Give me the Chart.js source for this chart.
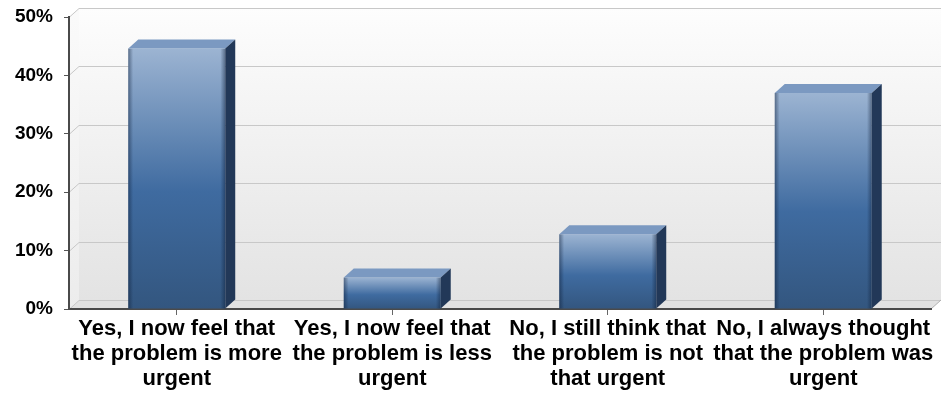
<!DOCTYPE html>
<html>
<head>
<meta charset="utf-8">
<script src="https://cdn.jsdelivr.net/npm/chart.js@4.4.1/dist/chart.umd.min.js"></script>
<style>
  html, body { margin: 0; padding: 0; background: #fff; }
  #wrap { width: 943px; height: 398px; }
</style>
</head>
<body>
<div id="wrap"><canvas id="chart"></canvas></div>
<script>
// Answers and their share of responses
const categories = [
  ["Yes, I now feel that", "the problem is more", "urgent"],
  ["Yes, I now feel that", "the problem is less", "urgent"],
  ["No, I still think that", "the problem is not", "that urgent"],
  ["No, I always thought", "that the problem was", "urgent"]
];
const percentages = [44.6, 5.4, 12.8, 37.0];
const tickValues = [0, 10, 20, 30, 40, 50];

// 3D depth of walls and bars
const DX = 10;
const DY = 9;

function poly(ctx, pts) {
  ctx.beginPath();
  ctx.moveTo(pts[0][0], pts[0][1]);
  for (let i = 1; i < pts.length; i++) ctx.lineTo(pts[i][0], pts[i][1]);
  ctx.closePath();
}

/* =========================
   BACK WALL, SIDE WALL, FLOOR
========================= */
const wallsPlugin = {
  id: "walls",
  beforeDraw(chart) {
    const { ctx, chartArea: a, scales } = chart;
    const l = a.left, r = a.right, t = a.top, b = a.bottom;
    ctx.save();

    const back = ctx.createLinearGradient(0, t - DY, 0, b - DY);
    back.addColorStop(0, "#fdfdfd");
    back.addColorStop(1, "#e3e3e3");
    ctx.fillStyle = back;
    ctx.fillRect(l + DX, t - DY, r - l, b - t);

    const side = ctx.createLinearGradient(0, t, 0, b);
    side.addColorStop(0, "#fafafa");
    side.addColorStop(1, "#ececec");
    ctx.fillStyle = side;
    poly(ctx, [[l, t], [l + DX, t - DY], [l + DX, b - DY], [l, b]]);
    ctx.fill();

    ctx.fillStyle = "#e2e2e2";
    poly(ctx, [[l, b], [r, b], [r + DX, b - DY], [l + DX, b - DY]]);
    ctx.fill();

    // gridlines run across the side wall and the back wall
    ctx.strokeStyle = "#c8c8c8";
    ctx.lineWidth = 1;
    tickValues.forEach(v => {
      const py = Math.round(scales.y.getPixelForValue(v)) + 0.5;
      ctx.beginPath();
      ctx.moveTo(l, py);
      ctx.lineTo(l + DX, py - DY);
      ctx.lineTo(r + DX, py - DY);
      ctx.stroke();
    });

    // floor edges
    ctx.strokeStyle = "#b0b0b0";
    ctx.beginPath();
    ctx.moveTo(r, b);
    ctx.lineTo(r + DX, b - DY);
    ctx.stroke();
    ctx.restore();
  }
};

/* =========================
   BAR TOP AND SIDE FACES
========================= */
const facesPlugin = {
  id: "faces",
  afterDatasetsDraw(chart) {
    const ctx = chart.ctx;
    ctx.save();
    chart.getDatasetMeta(0).data.forEach(bar => {
      const { x, y, base, width } = bar.getProps(["x", "y", "base", "width"], true);
      const x0 = x - width / 2, x1 = x + width / 2;

      // darker rims on the front face
      const rim = ctx.createLinearGradient(x0, 0, x1, 0);
      rim.addColorStop(0, "rgba(10,25,50,0.45)");
      rim.addColorStop(0.05, "rgba(10,25,50,0)");
      rim.addColorStop(0.95, "rgba(10,25,50,0)");
      rim.addColorStop(1, "rgba(10,25,50,0.45)");
      ctx.fillStyle = rim;
      ctx.fillRect(x0, y, width, base - y);

      ctx.fillStyle = "#7b99c1";
      poly(ctx, [[x0, y], [x1, y], [x1 + DX, y - DY], [x0 + DX, y - DY]]);
      ctx.fill();

      ctx.fillStyle = "#223858";
      poly(ctx, [[x1, y], [x1 + DX, y - DY], [x1 + DX, base - DY], [x1, base]]);
      ctx.fill();
    });
    ctx.restore();
  }
};

const ctx = document.getElementById("chart");
new Chart(ctx, {
  type: "bar",
  data: {
    labels: categories,
    datasets: [{
      data: percentages,
      barPercentage: 0.45,
      categoryPercentage: 1,
      backgroundColor(c) {
        const chart = c.chart;
        if (!chart.chartArea || c.raw === undefined) return "#4470a3";
        const y = chart.scales.y;
        const top = y.getPixelForValue(c.raw);
        const bottom = y.getPixelForValue(0);
        const g = chart.ctx.createLinearGradient(0, top, 0, bottom);
        g.addColorStop(0, "#9cb4d2");
        g.addColorStop(0.55, "#3f6ba0");
        g.addColorStop(1, "#33567f");
        return g;
      }
    }]
  },
  options: {
    responsive: true,
    maintainAspectRatio: false,
    animation: false,
    layout: { padding: { top: 17, right: 12, left: 0, bottom: 0 } },
    plugins: { legend: { display: false }, tooltip: { enabled: false } },
    scales: {
      x: {
        afterFit(scale) {
          scale.height = 89;
          scale.paddingLeft = 0;
          scale.paddingRight = 0;
        },
        grid: { drawOnChartArea: false, offset: false, tickLength: 6, color: "#666" },
        border: { color: "#4a4a4a", width: 2 },
        ticks: {
          maxRotation: 0,
          autoSkip: false,
          padding: 1,
          color: "#000",
          font: { family: "Liberation Sans, Arial", weight: "bold", size: 22, lineHeight: 1.14 }
        }
      },
      y: {
        min: 0,
        max: 50,
        afterFit(scale) {
          scale.width = 69;
          scale.paddingTop = 0;
          scale.paddingBottom = 0;
        },
        grid: { drawOnChartArea: false, tickLength: 5, color: "#555" },
        border: { color: "#4a4a4a", width: 2 },
        ticks: {
          stepSize: 10,
          padding: 11,
          color: "#000",
          font: { family: "Liberation Sans, Arial", weight: "bold", size: 19 },
          callback: v => v + "%"
        }
      }
    }
  },
  plugins: [wallsPlugin, facesPlugin]
});
</script>
</body>
</html>
